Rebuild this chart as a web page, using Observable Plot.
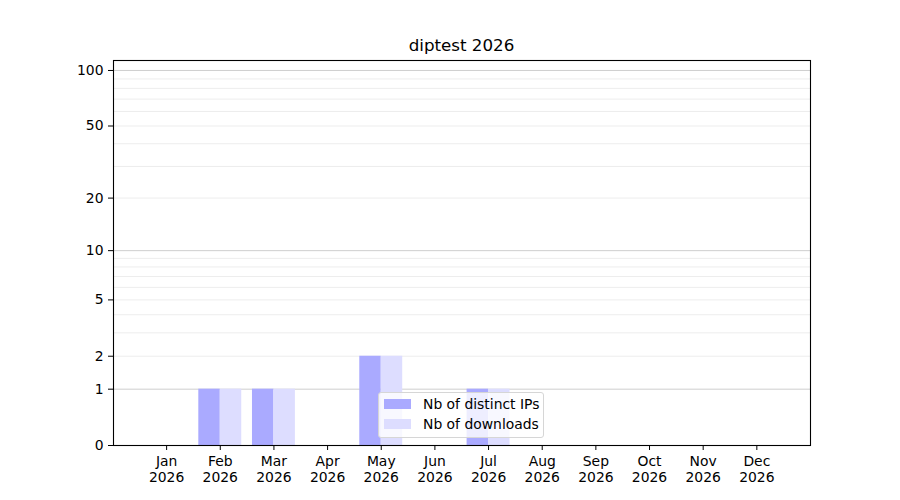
<!DOCTYPE html>
<html>
<head>
<meta charset="utf-8">
<script src="https://cdn.jsdelivr.net/npm/d3@7"></script>
<script src="https://cdn.jsdelivr.net/npm/@observablehq/plot@0.6"></script>
<style>
  body { margin: 0; background: #fff; font-family: "DejaVu Sans", sans-serif; }
  #wrap { position: relative; width: 900px; height: 500px; }
  #title { position: absolute; left: 113px; width: 697px; top: 35px; text-align: center; font-size: 16.7px; color: #000; }
  #legend { position: absolute; left: 378px; top: 392px; width: 166px; height: 46px; box-sizing: border-box;
            border: 1px solid #d6d6d6; border-radius: 3px; background: rgba(255,255,255,0.8); font-size: 13.9px; }
  .item { position: absolute; left: 5px; display: flex; align-items: center; }
  .sw { width: 27px; height: 10px; margin-right: 12px; }
</style>
</head>
<body>
<div id="wrap">
  <div id="chart"></div>
  <div id="title">diptest 2026</div>
  <div id="legend"></div>
</div>
<script>
const months = ["Jan","Feb","Mar","Apr","May","Jun","Jul","Aug","Sep","Oct","Nov","Dec"];
const year = "2026";
const distinctIPs = [0,1,1,0,2,0,1,0,0,0,0,0];
const downloads   = [0,1,1,0,2,0,1,0,0,0,0,0];
const yTicks = [0,1,2,5,10,20,50,100];
const majorGrid = [1,10,100];
const minorGrid = [2,3,4,5,6,7,8,9,20,30,40,50,60,70,80,90];
const seriesNames = ["Nb of distinct IPs","Nb of downloads"];
const seriesColors = ["#aaaaff","#ddddff"];

const rows = months.map((m,i) => ({i, ips: distinctIPs[i], dl: downloads[i]}));

const chart = Plot.plot({
  width: 900, height: 500,
  marginLeft: 113, marginRight: 90, marginTop: 60, marginBottom: 55,
  style: {fontFamily: "DejaVu Sans, sans-serif", fontSize: "13.9px", color: "#000", background: "#fff"},
  x: {type: "linear", domain: [-0.99, 12]},
  y: {type: "symlog", domain: [0, 113.2], constant: 1},
  marks: [
    Plot.ruleY(minorGrid, {stroke: "#ebebeb", strokeWidth: 0.9}),
    Plot.ruleY(majorGrid, {stroke: "#c8c8c8", strokeWidth: 0.9}),
    Plot.rectY(rows.filter(d => d.ips > 0), {x1: d => d.i - 0.4, x2: d => d.i, y1: 0, y2: "ips", fill: seriesColors[0]}),
    Plot.rectY(rows.filter(d => d.dl > 0), {x1: d => d.i, x2: d => d.i + 0.4, y1: 0, y2: "dl", fill: seriesColors[1]}),
    Plot.axisX(d3.range(12), {tickFormat: i => months[i] + "\n" + year, tickSize: 5, tickPadding: 4, lineHeight: 1.15, label: null, stroke: "#000"}),
    Plot.axisY(yTicks, {tickFormat: d => String(d), tickSize: 5, tickPadding: 5, label: null, stroke: "#000"}),
    Plot.frame({stroke: "#000", strokeWidth: 1.1})
  ]
});
document.getElementById("chart").appendChild(chart);

const legend = document.getElementById("legend");
seriesNames.forEach((name, k) => {
  const it = document.createElement("div");
  it.className = "item";
  it.style.top = (k === 0 ? 3 : 23) + "px";
  it.innerHTML = `<span class="sw" style="background:${seriesColors[k]}"></span><span>${name}</span>`;
  legend.appendChild(it);
});
</script>
</body>
</html>
